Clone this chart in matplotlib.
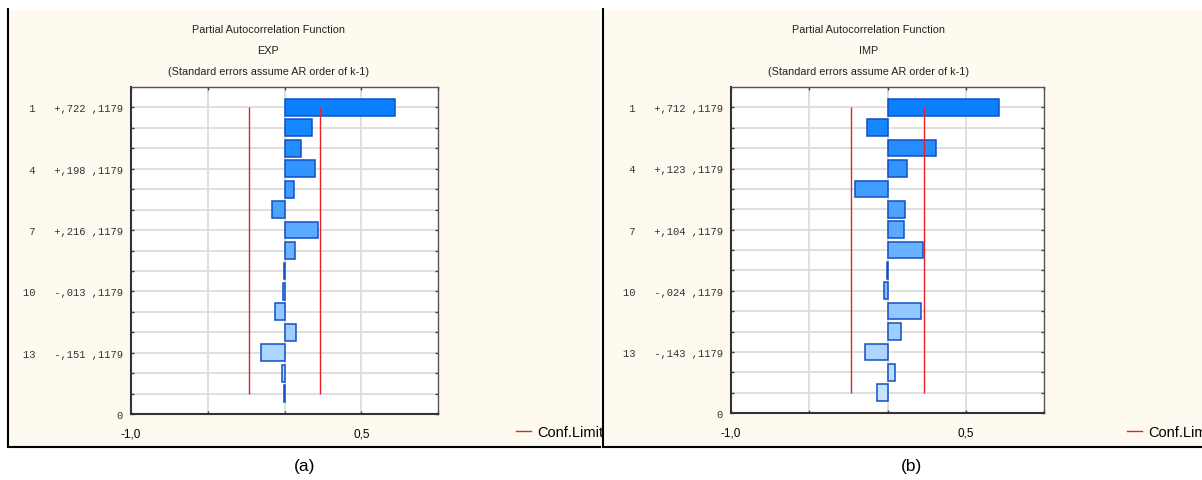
import matplotlib
matplotlib.use('Agg')
import matplotlib.pyplot as plt
import numpy as np
from matplotlib.patches import Rectangle
from matplotlib.lines import Line2D
from matplotlib.colors import LinearSegmentedColormap

# ---------------- data ----------------
lags = list(range(1, 16))
exp_pacf = [0.722, 0.178, 0.109, 0.198, 0.065, -0.083, 0.216, 0.067,
            -0.005, -0.013, -0.059, 0.072, -0.151, -0.017, -0.003]
imp_pacf = [0.712, -0.131, 0.309, 0.123, -0.208, 0.112, 0.104, 0.227,
            -0.005, -0.024, 0.212, 0.087, -0.143, 0.051, -0.068]
std_err = 0.1179
labeled_lags = [1, 4, 7, 10, 13]
series_names = ['EXP', 'IMP']
captions = ['(a)', '(b)']
xtick_vals = [-1.0, -0.5, 0.0, 0.5, 1.0]
xtick_labels = ['-1,0', '', '', '0,5', '']
title_line1 = 'Partial Autocorrelation Function'
title_line3 = '(Standard errors assume AR order of k-1)'
legend_label = 'Conf.Limit'

# ---------------- style ----------------
W, H = 1202, 481
cream = '#FFFAF0'
red = '#E8202A'
edge_blue = '#1150C4'
grid_col = '#DCDCDC'
cmap = LinearSegmentedColormap.from_list('bars', ['#0A80FF', '#C8E3FF'])

fig = plt.figure(figsize=(W / 100, H / 100), dpi=100)
fig.patch.set_facecolor('white')

def fx(x):
    return x / W

def fy(y):
    return 1 - y / H

# panel backgrounds and borders
panels = [(8, 600), (603, 1202)]
for (x0, x1) in panels:
    fig.patches.append(Rectangle((fx(x0), fy(448)), fx(x1 - x0), (448 - 11) / H,
                                 transform=fig.transFigure, facecolor=cream,
                                 edgecolor='none', zorder=-10))
    fig.lines.append(Line2D([fx(x0), fx(x0)], [fy(10), fy(448)],
                            transform=fig.transFigure, color='black', lw=1.5,
                            zorder=-5))
    fig.lines.append(Line2D([fx(x0), fx(x1)], [fy(448), fy(448)],
                            transform=fig.transFigure, color='black', lw=1.5,
                            zorder=-5))

axes_px = [(131, 88, 438, 415), (731, 88, 1044, 414)]
title_cx = [268, 869]
caption_cx = [305, 912]
legend_x = [516, 1127]
series = [exp_pacf, imp_pacf]
conf = 1.96 * std_err

for i in range(2):
    x0, y0, x1, y1 = axes_px[i]
    ax = fig.add_axes([fx(x0), fy(y1), (x1 - x0) / W, (y1 - y0) / H])
    ax.set_zorder(5)
    ax.set_facecolor('white')
    vals = series[i]
    colors = [cmap((l - 1) / (len(lags) - 1)) for l in lags]
    ax.barh(lags, vals, height=0.82, left=0, color=colors,
            edgecolor=edge_blue, linewidth=1.1, zorder=3)
    ax.vlines([-conf, conf], lags[0], lags[-1], color=red, lw=1.0, zorder=4)

    ax.set_xlim(-1.0, 1.0)
    ax.set_ylim(16, 0)

    # grid
    for gx in [-0.5, 0.0, 0.5]:
        ax.axvline(gx, color=grid_col, lw=1.3, zorder=1)
    for gy in lags:
        ax.axhline(gy, color=grid_col, lw=1.3, zorder=1)

    ax.set_xticks(xtick_vals)
    ax.set_xticklabels(xtick_labels, fontsize=8.5, family='Liberation Sans')
    ax.tick_params(axis='x', direction='in', length=2.5, width=1.0,
                   top=True, pad=10, color='#444444')

    se_txt = ',' + str(int(round(std_err * 10000)))
    ylabels = []
    for l in labeled_lags:
        v = vals[l - 1]
        sign = '+' if v >= 0 else '-'
        ylabels.append(f"{l:>2}   {sign},{abs(int(round(v * 1000))):03d} {se_txt}")
    ax.set_yticks(labeled_lags + [16])
    ax.set_yticklabels(ylabels + ['0'], fontsize=7.6, family='Liberation Mono',
                       color='#333333')
    ax.set_yticks([l for l in lags if l not in labeled_lags], minor=True)
    ax.tick_params(axis='y', which='both', direction='in', length=2.5,
                   width=1.0, right=True, pad=6, color='#444444')

    for s in ax.spines.values():
        s.set_color('#555555')
        s.set_linewidth(1.0)
    ax.spines['left'].set_color('#333333')
    ax.spines['bottom'].set_color('#333333')
    ax.spines['left'].set_linewidth(1.5)
    ax.spines['bottom'].set_linewidth(1.5)

    # titles
    fig.text(fx(title_cx[i]), fy(30), title_line1, ha='center', va='center',
             fontsize=7.8, family='Liberation Sans', color='#222222')
    fig.text(fx(title_cx[i]), fy(51), series_names[i], ha='center', va='center',
             fontsize=7.8, family='Liberation Sans', color='#222222')
    fig.text(fx(title_cx[i]), fy(72), title_line3, ha='center', va='center',
             fontsize=7.8, family='Liberation Sans', color='#222222')

    # caption
    fig.text(fx(caption_cx[i]), fy(467), captions[i], ha='center', va='center',
             fontsize=12.5, family='Liberation Sans', color='black')

    # legend
    fig.legend(handles=[Line2D([], [], color=red, lw=1.0)], labels=[legend_label],
               loc='center left', bbox_to_anchor=(fx(legend_x[i]), fy(433)),
               frameon=False, handlelength=1.0, handletextpad=0.45,
               borderpad=0, borderaxespad=0,
               prop={'family': 'Liberation Sans', 'size': 10.5})

fig.savefig('out.png', dpi=100, facecolor='white')
